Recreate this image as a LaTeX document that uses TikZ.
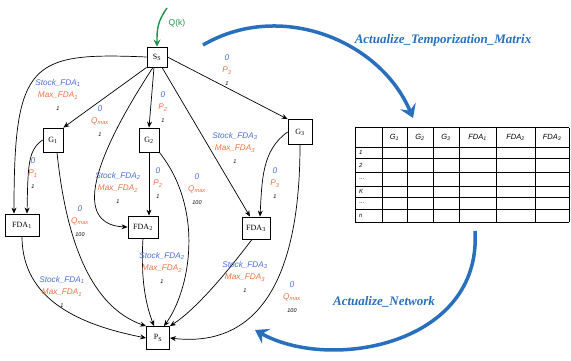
\documentclass[tikz,border=0pt]{standalone}
\usepackage{fontspec}
\setmainfont{Liberation Serif}
\newfontfamily\labfont{Liberation Sans}
\usetikzlibrary{arrows.meta}
\definecolor{labblue}{RGB}{70,110,210}
\definecolor{laborange}{RGB}{235,115,65}
\definecolor{flowblue}{RGB}{40,112,190}
\definecolor{qgreen}{RGB}{30,145,75}
% #1: name, #2: x, #3: y, #4: blue line, #5: orange line, #6: black line
\newcommand{\elab}[6]{\node[elab] (#1) at (#2,#3) {\textcolor{labblue}{#4}\\\textcolor{laborange}{#5}\\{\fontsize{5.5}{6}\selectfont #6}};}

\begin{document}
\begin{tikzpicture}[x=1pt,y=-1pt,
	box/.style={draw,thick,fill=white,inner sep=1pt,minimum width=20,minimum height=20,font=\fontsize{8}{9}\selectfont},
	elab/.style={align=center,inner sep=0pt,font=\labfont\itshape\fontsize{8.2}{12.5}\selectfont},
	edge/.style={-{Stealth[length=6pt,width=5pt]},line width=0.7pt},
	flow/.style={flowblue,line width=3.5pt,-{Stealth[length=13pt,width=17pt,inset=5pt]}},
	flowlab/.style={flowblue,font=\bfseries\itshape\fontsize{13}{15}\selectfont},
	head/.style={font=\labfont\itshape\fontsize{7.5}{8}\selectfont},
	rowlab/.style={font=\labfont\itshape\fontsize{6}{7}\selectfont,anchor=west,inner sep=0pt}]
	\useasboundingbox (0,0) rectangle (571,361);
	
	% Nodes of the network
	\node[box] (Ss) at (157,57) {S\textsubscript{S}};
	\node[box,minimum height=24] (G1) at (53,140) {G\textsubscript{1}};
	\node[box,minimum height=24] (G2) at (149,140) {G\textsubscript{2}};
	\node[box,minimum width=24,minimum height=25] (G3) at (300,132) {G\textsubscript{3}};
	\node[box,minimum width=34,minimum height=22] (FDA1) at (22,225) {FDA\textsubscript{1}};
	\node[box,minimum width=30,minimum height=22] (FDA2) at (143,227) {FDA\textsubscript{2}};
	\node[box,minimum width=28,minimum height=22] (FDA3) at (256,228) {FDA\textsubscript{3}};
	\node[box,minimum width=23,minimum height=23] (Ps) at (158,338) {P\textsubscript{S}};
	
	% Demand entering the source
	\coordinate (qin) at (167,8);
	\draw[qgreen,line width=1.4pt,-{Stealth[length=7pt,width=7pt]}] (qin) .. controls (157,22) and (157,30) .. (Ss.north);
	\node[qgreen,font=\labfont\fontsize{8.5}{9}\selectfont] (qk) at (177,23) {Q(k)};
	
	% Arcs
	\draw[edge] (Ss.west) .. controls (30,52) and (14,62) .. ([xshift=-8pt]FDA1.north);
	\draw[edge] (Ss.south west) -- (G1.north east);
	\draw[edge] ([xshift=-3pt]Ss.south) -- (G2.north);
	\draw[edge] (Ss.east) -- (G3.north west);
	\draw[edge] ([xshift=-4pt]Ss.south) .. controls (60,210) and (100,226) .. (FDA2.west);
	\draw[edge] ([xshift=5pt]Ss.south) -- ([xshift=-6pt]FDA3.north);
	\draw[edge] (G1.west) .. controls (28,150) and (28,165) .. ([xshift=5pt]FDA1.north);
	\draw[edge] ([xshift=4pt]G1.south) .. controls (68,260) and (100,310) .. (Ps.north west);
	\draw[edge] (G2.south) -- (G2.south |- FDA2.north);
	\draw[edge] (G2.south east) .. controls (205,210) and (190,290) .. ([xshift=6pt]Ps.north);
	\draw[edge] (G3.west) .. controls (262,150) and (262,180) .. ([xshift=4pt]FDA3.north);
	\draw[edge] (G3.south) .. controls (300,320) and (230,345) .. (Ps.east);
	\draw[edge] (FDA1.south) .. controls (22,300) and (80,325) .. (Ps.west);
	\draw[edge] (FDA2.south) .. controls (140,285) and (148,310) .. ([xshift=-4pt]Ps.north);
	\draw[edge] ([xshift=-4pt]FDA3.south) .. controls (225,275) and (195,310) .. (Ps.north east);
	
	% Arc labels
	\elab{lSF1}{58}{95}{Stock\_FDA\textsubscript{1}}{Max\_FDA\textsubscript{1}}{1}
	\elab{lSG1}{100}{121}{0}{Q\textsubscript{max}}{1}
	\elab{lSG2}{163}{107}{0}{P\textsubscript{2}}{1}
	\elab{lSG3}{227}{70}{0}{P\textsubscript{3}}{1}
	\elab{lSF2}{118}{188}{Stock\_FDA\textsubscript{2}}{Max\_FDA\textsubscript{2}}{1}
	\elab{lSF3}{235}{148}{Stock\_FDA\textsubscript{3}}{Max\_FDA\textsubscript{3}}{1}
	\elab{lG1F}{33}{173}{0}{P\textsubscript{1}}{1}
	\elab{lG1P}{80}{221}{0}{Q\textsubscript{max}}{100}
	\elab{lG2F}{158}{183}{0}{P\textsubscript{2}}{1}
	\elab{lG2P}{197}{189}{0}{Q\textsubscript{max}}{100}
	\elab{lG3F}{275}{183}{0}{P\textsubscript{3}}{1}
	\elab{lG3P}{292}{297}{0}{Q\textsubscript{max}}{100}
	\elab{lF1P}{62}{292}{Stock\_FDA\textsubscript{1}}{Max\_FDA\textsubscript{1}}{1}
	\elab{lF2P}{162}{268}{Stock\_FDA\textsubscript{2}}{Max\_FDA\textsubscript{2}}{1}
	\elab{lF3P}{245}{277}{Stock\_FDA\textsubscript{3}}{Max\_FDA\textsubscript{3}}{1}
	
	% Temporization matrix
	\foreach \x in {355,382,407,433,459,496,535,569} \draw[line width=1pt] (\x,128) -- (\x,222);
	\foreach \y in {128,147,158,172,186,197,209,222} \draw[line width=1pt] (355,\y) -- (569,\y);
	\foreach \c/\t/\n in {394.5/G\textsubscript{1}/hG1,420/G\textsubscript{2}/hG2,446/G\textsubscript{3}/hG3,477.5/FDA\textsubscript{1}/hF1,515.5/FDA\textsubscript{2}/hF2,552/FDA\textsubscript{3}/hF3}
		\node[head] (\n) at (\c,137.5) {\t};
	\foreach \y/\t/\n in {152.5/1/r1,165/2/r2,179/{\ldots}/r3,191.5/K/rK,203/{\ldots}/r5,215.5/n/rn}
		\node[rowlab] (\n) at (359,\y) {\t};
	
	% Update loop
	\coordinate (upstart) at (203,45);
	\coordinate (mtop) at (413,118);
	\coordinate (mbot) at (475,231);
	\coordinate (netend) at (255,330);
	\draw[flow] (upstart) .. controls (280,0) and (380,40) .. (mtop);
	\draw[flow] (mbot) .. controls (482,345) and (330,372) .. (netend);
	\node[flowlab] (tm) at (443,40) {Actualize\_Temporization\_Matrix};
	\node[flowlab] (an) at (384,302) {Actualize\_Network};
\end{tikzpicture}
\end{document}
